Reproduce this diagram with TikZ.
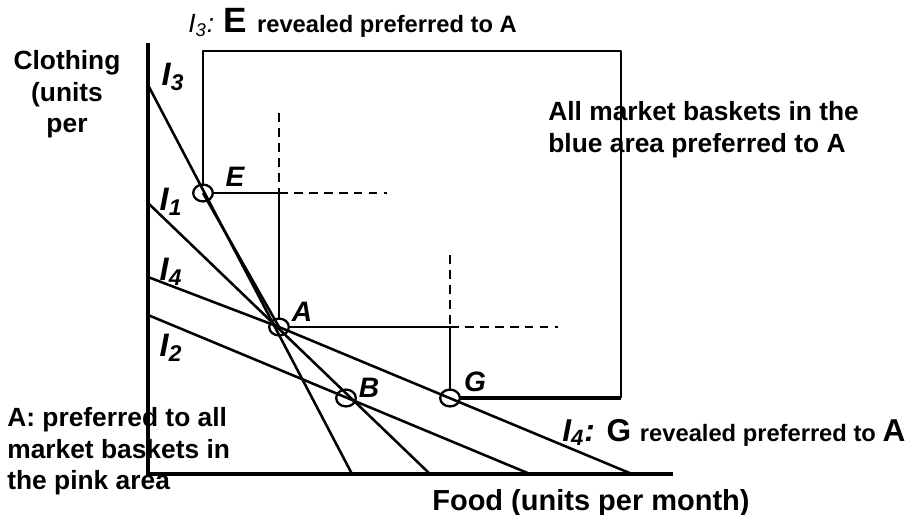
\documentclass[tikz,border=0pt]{standalone}
\usepackage{fontspec}
\setmainfont{Liberation Sans}
\usetikzlibrary{calc}

\begin{document}
\begin{tikzpicture}[x=0.02cm, y=-0.02cm, line join=round,
    curve/.style={line width=1.45pt},
    guide/.style={line width=1.2pt},
    dashguide/.style={line width=1.2pt, dash pattern=on 5pt off 3.5pt},
    basket/.style={line width=1.3pt},
    ptlabel/.style={font=\fontsize{16}{16}\selectfont\bfseries\itshape, inner sep=0pt},
    ilabel/.style={font=\fontsize{18.5}{18.5}\selectfont\bfseries\itshape, inner sep=0pt},
    note/.style={font=\fontsize{15}{18}\selectfont\bfseries, inner sep=0pt}]
    \useasboundingbox (0,0) rectangle (908,514);

    % Baskets
    \coordinate (E) at (203,193);
    \coordinate (A) at (279,327);
    \coordinate (B) at (346,398);
    \coordinate (G) at (450,398);

    % Axes
    \draw[line width=2.8pt] (148,43) -- (148,474) -- (673,474);

    % Budget lines
    \draw[curve] (148,85) -- (352,474);
    \draw[curve] (E) -- (A);
    \draw[curve] (148,203) -- (430,474);
    \draw[curve] (148,277) -- (A) -- (632,474);
    \draw[curve] (148,315) -- (530,474);

    % Preferred area
    \draw[guide] (203,184) -- (203,51) -- (621,51) -- (621,398);
    \draw[line width=1.9pt] (460,398) -- (621,398);

    % Guides through E, A and G
    \draw[guide] (213,193) -- (279,193) -- (279,318);
    \draw[dashguide] (279,193) -- (387,193);
    \draw[dashguide] (279,113) -- (279,193);
    \draw[guide] (289,327) -- (450,327) -- (450,389);
    \draw[dashguide] (450,327) -- (558,327);
    \draw[dashguide] (450,255) -- (450,327);

    % Circles
    \foreach \p in {E,A,B,G}
        \draw[basket] (\p) ellipse [x radius=5.6pt, y radius=4.8pt];

    % Labels
    \node[ptlabel] (lE) at (235,177) {E};
    \node[ptlabel] (lA) at (302,312) {A};
    \node[ptlabel] (lB) at (369,388) {B};
    \node[ptlabel] (lG) at (475,382) {G};
    \node[ilabel] (l3) at (173,77) {I\textsubscript{3}};
    \node[ilabel] (l1) at (171,202) {I\textsubscript{1}};
    \node[ilabel] (l4) at (171,272) {I\textsubscript{4}};
    \node[ilabel] (l2) at (171,348) {I\textsubscript{2}};

    % Texts
    \node[note, align=center, anchor=north] (ylab) at (67,50) {Clothing\\(units\\per};
    \node[note, font=\fontsize{16.5}{18}\selectfont\bfseries, anchor=north west] (xlab) at (432,489) {Food (units per month)};
    \node[note, align=left, anchor=north west] (blue) at (548,101) {All market baskets in the\\blue area preferred to A};
    \node[note, align=left, anchor=north west] (pink) at (7,407) {A: preferred to all\\market baskets in\\the pink area};
    \node[inner sep=0pt, anchor=base west] (top) at (188,32)
        {\fontsize{15}{15}\selectfont\itshape I\textsubscript{3}:
         \fontsize{20}{20}\selectfont\bfseries\upshape E
         \fontsize{13.5}{14}\selectfont revealed preferred to A};
    \node[inner sep=0pt, anchor=base west] (bottom) at (562,441)
        {\fontsize{18}{18}\selectfont\bfseries\itshape I\textsubscript{4}:
         \upshape G
         \fontsize{13.5}{14}\selectfont revealed preferred to
         \fontsize{18}{18}\selectfont A};
\end{tikzpicture}
\end{document}
